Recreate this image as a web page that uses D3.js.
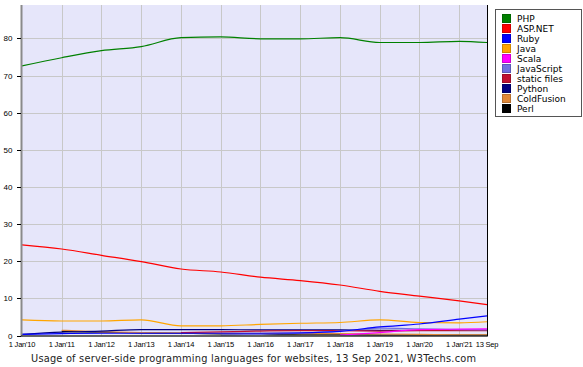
<!DOCTYPE html>
<html><head><meta charset="utf-8">
<script src="https://cdn.jsdelivr.net/npm/d3@7"></script>
<style>
html,body{margin:0;padding:0;background:#fff;}
svg{display:block;}
</style></head>
<body>
<svg id="chart" width="583" height="367"></svg>
<script>
// ---- data ----
const dates = ["2010-01-01","2011-01-01","2012-01-01","2013-01-01","2014-01-01","2015-01-01","2016-01-01","2017-01-01","2018-01-01","2019-01-01","2020-01-01","2021-01-01","2021-09-13"];
const tickDates = ["2010-01-01","2011-01-01","2012-01-01","2013-01-01","2014-01-01","2015-01-01","2016-01-01","2017-01-01","2018-01-01","2019-01-01","2020-01-01","2021-01-01","2021-09-13"];
const tickLabels = ["1 Jan'10","1 Jan'11","1 Jan'12","1 Jan'13","1 Jan'14","1 Jan'15","1 Jan'16","1 Jan'17","1 Jan'18","1 Jan'19","1 Jan'20","1 Jan'21","13 Sep"];
const yTicks = [0,10,20,30,40,50,60,70,80];
const seriesNames = ["PHP","ASP.NET","Ruby","Java","Scala","JavaScript","static files","Python","ColdFusion","Perl"];
const seriesColors = ["#008000","#ff0000","#0000ff","#ffa500","#ff00ff","#7070e0","#c01030","#000080","#e08838","#000000"];
const PHP        = [72.6,74.8,76.7,77.8,80.2,80.4,79.9,79.9,80.2,78.9,78.9,79.2,78.9];
const ASPNET     = [24.4,23.3,21.6,19.9,17.9,17.1,15.7,14.8,13.6,11.9,10.6,9.3,8.3];
const Ruby       = [0.3,0.5,0.6,0.6,0.6,0.6,0.6,0.7,1.1,2.3,3.1,4.4,5.3];
const Java       = [4.2,3.9,3.9,4.2,2.6,2.6,3.0,3.3,3.5,4.2,3.5,3.4,3.7];
const Scala      = [null,null,null,null,null,null,null,null,0.1,0.8,1.6,1.7,1.8];
const JavaScript = [null,null,null,null,null,0.1,0.3,0.6,1.2,2.0,1.8,1.6,1.5];
const staticFiles= [null,null,null,null,0.8,1.0,1.2,1.3,1.3,1.2,1.3,1.3,1.3];
const Python     = [0.3,0.9,1.2,1.6,1.6,1.6,1.5,1.5,1.5,1.4,1.4,1.4,1.4];
const ColdFusion = [null,1.4,1.0,0.8,0.7,0.6,0.6,0.5,0.5,0.4,0.3,0.2,0.2];
const Perl       = [null,1.1,0.9,0.7,0.6,0.4,0.3,0.2,0.2,0.1,0.1,0.1,0.1];
const seriesValues = [PHP,ASPNET,Ruby,Java,Scala,JavaScript,staticFiles,Python,ColdFusion,Perl];
const caption = "Usage of server-side programming languages for websites, 13 Sep 2021, W3Techs.com";

// ---- chart ----
const svg = d3.select("#chart");
const parse = d3.utcParse("%Y-%m-%d");
const L = 22, R = 487, T = 5, B = 335.5;
const x = d3.scaleUtc().domain([parse(dates[0]), parse(dates[dates.length-1])]).range([L, R]);
const y = d3.scaleLinear().domain([0, 89]).range([B, T]);

svg.append("rect").attr("x", L).attr("y", T).attr("width", R-L).attr("height", B-T).attr("fill", "#e6e6fa");

// grid
const g = svg.append("g");
g.selectAll(".gy").data(yTicks.filter(d=>d>0)).join("line")
  .attr("x1", L).attr("x2", R).attr("y1", d=>Math.round(y(d))+0.5).attr("y2", d=>Math.round(y(d))+0.5)
  .attr("stroke", "#c8c8c8").attr("stroke-width", 1);
g.selectAll(".gx").data(tickDates.slice(1, -1)).join("line")
  .attr("x1", d=>Math.round(x(parse(d)))+0.5).attr("x2", d=>Math.round(x(parse(d)))+0.5).attr("y1", T).attr("y2", B)
  .attr("stroke", "#c8c8c8").attr("stroke-width", 1);

// lines
const line = d3.line()
  .defined(d => d.v != null)
  .x(d => x(d.t)).y(d => y(d.v))
  .curve(d3.curveMonotoneX);
const order = [9,8,7,6,5,4,3,2,1,0];
order.forEach(i => {
  const pts = dates.map((d, k) => ({t: parse(d), v: seriesValues[i][k]}));
  svg.append("path").datum(pts).attr("d", line)
    .attr("fill", "none").attr("stroke", seriesColors[i]).attr("stroke-width", 1.2);
});

// axes
svg.append("line").attr("x1", L-0.5).attr("x2", L-0.5).attr("y1", T).attr("y2", B+1)
  .attr("stroke", "#8a8a8a").attr("stroke-width", 2);
svg.append("line").attr("x1", L-1).attr("x2", R).attr("y1", B+0.5).attr("y2", B+0.5)
  .attr("stroke", "#333").attr("stroke-width", 1.5);
svg.append("line").attr("x1", R+0.5).attr("x2", R+0.5).attr("y1", T).attr("y2", B+1)
  .attr("stroke", "#000").attr("stroke-width", 1);

// y ticks
svg.selectAll(".yt").data(yTicks).join("line")
  .attr("x1", L-5).attr("x2", L-1).attr("y1", d=>Math.round(y(d))+0.5).attr("y2", d=>Math.round(y(d))+0.5)
  .attr("stroke", "#000").attr("stroke-width", 1);
svg.selectAll(".yl").data(yTicks).join("text")
  .attr("x", 12.5).attr("y", d=>y(d)+3)
  .attr("text-anchor", "end")
  .attr("font-family", "Liberation Sans, Arial, sans-serif").attr("font-size", 8)
  .attr("fill", "#000").text(d=>d);

// x labels
svg.selectAll(".xl").data(tickDates).join("text")
  .attr("x", (d,i)=>x(parse(d)))
  .attr("y", 346.5)
  .attr("text-anchor", "middle")
  .attr("font-family", "Liberation Sans, Arial, sans-serif").attr("font-size", 7.5)
  .attr("letter-spacing", -0.2)
  .attr("fill", "#000").text((d,i)=>tickLabels[i]);

// caption
svg.append("text").attr("x", 253.5).attr("y", 361.5).attr("text-anchor", "middle")
  .attr("font-family", "DejaVu Sans, Verdana, sans-serif").attr("font-size", 9.8)
  .attr("textLength", 445).attr("lengthAdjust", "spacing")
  .attr("fill", "#222").text(caption);

// legend
const lg = svg.append("g");
lg.append("rect").attr("x", 495.5).attr("y", 9.5).attr("width", 86).attr("height", 107)
  .attr("fill", "#fff").attr("stroke", "#555").attr("stroke-width", 1);
seriesNames.forEach((n, i) => {
  lg.append("rect").attr("x", 502.5).attr("y", 14.5 + i*10).attr("width", 8).attr("height", 8)
    .attr("fill", seriesColors[i]).attr("stroke", d3.color(seriesColors[i]).darker(0.6)).attr("stroke-width", 1);
  lg.append("text").attr("x", 517).attr("y", 21.5 + i*10)
    .attr("font-family", "DejaVu Sans, Verdana, sans-serif").attr("font-size", 9)
    .attr("fill", "#000").text(n);
});
</script>
</body></html>
